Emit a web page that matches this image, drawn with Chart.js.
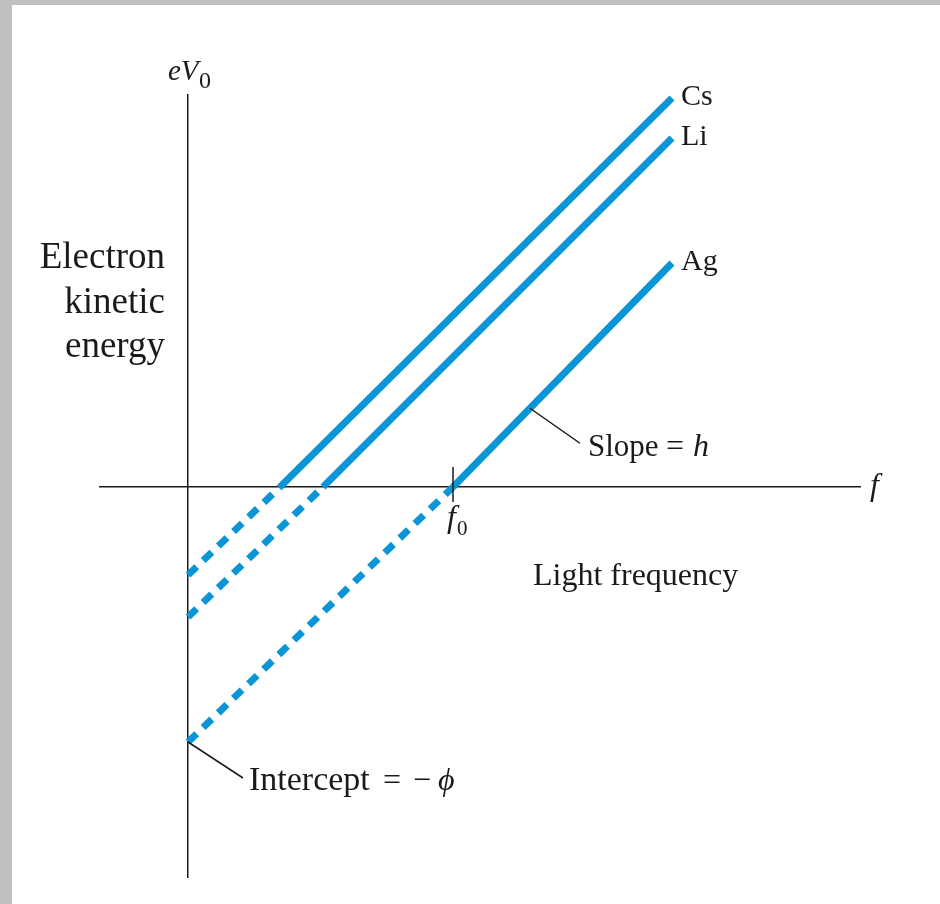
<!DOCTYPE html>
<html lang="en">
<head>
    <meta charset="UTF-8">
    <title>Photoelectric effect: eV0 vs f</title>
    <script src="https://cdn.jsdelivr.net/npm/chart.js"></script>
    <style>
        body { margin: 0; background: #c0c0c0; }
        #wrap { position: absolute; left: 12px; top: 5px; width: 928px; height: 899px; background: #fff; }
    </style>
</head>
<body>
    <div id="wrap">
        <canvas id="peChart" width="928" height="899"></canvas>
    </div>

    <script>
        // values (arbitrary units, origin where the axes cross)
        const metals = ["Cs", "Li", "Ag"];
        const thresholdFreq = [0.92, 1.35, 2.65];     // where eV0 = 0
        const interceptEnergy = [-0.88, -1.30, -2.55]; // eV0 at f = 0  (-phi)
        const endFreq = [4.84, 4.84, 4.84];
        const endEnergy = [3.89, 3.49, 2.24];

        const blue = "#0a95d6";
        const ink = "#1a1a1a";
        const serif = "'Liberation Serif', 'DejaVu Serif', serif";

        // dashed part: extrapolation back to f = 0, solid part: measured region
        let datasets = [];
        metals.forEach((m, i) => {
            datasets.push({
                label: m + " (extrapolated)",
                data: [{ x: 0, y: interceptEnergy[i] }, { x: thresholdFreq[i], y: 0 }],
                borderColor: blue,
                borderWidth: 7,
                borderDash: [12, 9],
                borderCapStyle: "butt",
                pointRadius: 0,
                clip: false
            });
            datasets.push({
                label: m,
                data: [{ x: thresholdFreq[i], y: 0 }, { x: endFreq[i], y: endEnergy[i] }],
                borderColor: blue,
                borderWidth: 7,
                borderCapStyle: "butt",
                pointRadius: 0,
                clip: false
            });
        });

        function text(ctx, str, x, y, size, italic, align) {
            ctx.font = (italic ? "italic " : "") + size + "px " + serif;
            ctx.textAlign = align || "left";
            ctx.textBaseline = "alphabetic";
            ctx.fillText(str, x, y);
        }

        function line(ctx, x1, y1, x2, y2, w) {
            ctx.beginPath();
            ctx.moveTo(x1, y1);
            ctx.lineTo(x2, y2);
            ctx.lineWidth = w;
            ctx.stroke();
        }

        const annotations = {
            id: "annotations",
            afterDatasetsDraw(chart) {
                const ctx = chart.ctx;
                const xs = chart.scales.x, ys = chart.scales.y;
                const x0 = xs.getPixelForValue(0), y0 = ys.getPixelForValue(0);
                ctx.save();
                ctx.fillStyle = ink;
                ctx.strokeStyle = ink;

                // axis names
                text(ctx, "eV", x0 - 20, 75, 29, true);
                text(ctx, "0", x0 + 11, 83, 24, false);
                text(ctx, "Electron", 153, 263, 37, false, "right");
                text(ctx, "kinetic", 153, 308, 37, false, "right");
                text(ctx, "energy", 153, 352, 37, false, "right");
                text(ctx, "f", xs.right + 10, y0 + 8, 32, true);
                text(ctx, "Light frequency", 521, 580, 32, false);

                // metal names at the end of each line
                metals.forEach((m, i) => {
                    const px = xs.getPixelForValue(endFreq[i]);
                    const py = ys.getPixelForValue(endEnergy[i]);
                    text(ctx, m, px + 9, py + 7, 30, false);
                });

                // f0 tick on the Ag threshold
                const fx = xs.getPixelForValue(thresholdFreq[2]);
                line(ctx, fx, y0 - 20, fx, y0 + 15, 1.5);
                text(ctx, "f", fx - 6, y0 + 40, 32, true);
                text(ctx, "0", fx + 4, y0 + 48, 21, false);

                // slope leader from the Ag line
                const sx = 3.42;
                const sy = endEnergy[2] * (sx - thresholdFreq[2]) / (endFreq[2] - thresholdFreq[2]);
                const lx = xs.getPixelForValue(sx), ly = ys.getPixelForValue(sy);
                line(ctx, lx, ly, lx + 50, ly + 35, 1.5);
                text(ctx, "Slope", lx + 58, ly + 48, 31, false);
                text(ctx, "=", lx + 136, ly + 48, 32, false);
                text(ctx, "h", lx + 163, ly + 48, 32, true);

                // intercept leader from the Ag intercept
                const iy = ys.getPixelForValue(interceptEnergy[2]);
                line(ctx, x0, iy, x0 + 55, iy + 36, 1.5);
                text(ctx, "Intercept", x0 + 61, iy + 48, 34, false);
                text(ctx, "=", x0 + 195, iy + 48, 32, false);
                text(ctx, "\u2212", x0 + 225, iy + 48, 32, false);
                text(ctx, "\u03D5", x0 + 250, iy + 48, 32, true);

                ctx.restore();
            }
        };

        new Chart(document.getElementById("peChart"), {
            type: "line",
            data: { datasets: datasets },
            options: {
                responsive: false,
                animation: false,
                layout: { padding: { left: 88, right: 80, top: 90, bottom: 27 } },
                plugins: { legend: { display: false }, tooltip: { enabled: false } },
                scales: {
                    x: {
                        type: "linear",
                        min: -0.88,
                        max: 6.72,
                        position: { y: 0 },
                        grid: { display: false },
                        ticks: { display: false },
                        border: { display: true, color: ink, width: 1.5 }
                    },
                    y: {
                        type: "linear",
                        min: -3.90,
                        max: 3.92,
                        position: { x: 0 },
                        grid: { display: false },
                        ticks: { display: false },
                        border: { display: true, color: ink, width: 1.5 }
                    }
                }
            },
            plugins: [annotations]
        });
    </script>
</body>
</html>
